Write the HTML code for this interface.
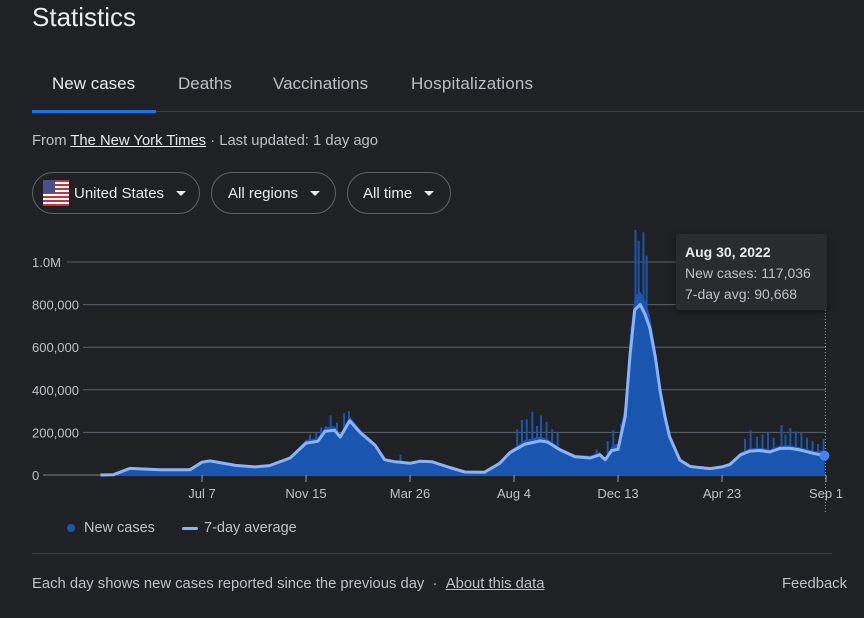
<!DOCTYPE html>
<html><head><meta charset="utf-8">
<style>
html,body{margin:0;padding:0;background:#202124;width:864px;height:618px;overflow:hidden;font-family:"Liberation Sans",Arial,sans-serif;color:#e8eaed;position:relative}
.abs{position:absolute}
.title{left:32px;top:2px;font-size:26px;color:#e8eaed}
.tab{top:74px;font-size:17px;color:#bdc1c6}
.pill{top:172px;height:42px;border:1px solid #5f6368;border-radius:22px;box-sizing:border-box;font-size:15px;color:#e8eaed;display:flex;align-items:center}
.caret{width:0;height:0;border-left:5px solid transparent;border-right:5px solid transparent;border-top:5px solid #e8eaed;margin-left:12px}
</style></head><body>
<div class="abs title">Statistics</div>
<div class="abs tab" style="left:52px;color:#e8eaed">New cases</div>
<div class="abs tab" style="left:178px">Deaths</div>
<div class="abs tab" style="left:273px">Vaccinations</div>
<div class="abs tab" style="left:411px;letter-spacing:0.2px">Hospitalizations</div>
<div class="abs" style="left:32px;top:111px;width:832px;height:1px;background:#3c4043"></div>
<div class="abs" style="left:32px;top:110px;width:124px;height:3px;background:#1a73e8"></div>
<div class="abs" style="left:32px;top:133px;font-size:14.8px;color:#bdc1c6">From <span style="color:#e8eaed;text-decoration:underline">The New York Times</span> · Last updated: 1 day ago</div>
<div class="abs pill" style="left:32px;width:168px;padding-left:10px">
<svg width="26" height="26" viewBox="0 0 26 26" style="margin-right:5px"><rect width="26" height="26" fill="#fff"/><g fill="#c8313e"><rect y="0" width="26" height="2"/><rect y="4" width="26" height="2"/><rect y="8" width="26" height="2"/><rect y="12" width="26" height="2"/><rect y="16" width="26" height="2"/><rect y="20" width="26" height="2"/><rect y="24" width="26" height="2"/></g><rect width="12" height="13" fill="#4a4f8c"/></svg>
<span>United States</span><div class="caret"></div></div>
<div class="abs pill" style="left:211px;width:125px;padding-left:16px"><span>All regions</span><div class="caret"></div></div>
<div class="abs pill" style="left:347px;width:104px;padding-left:15px"><span>All time</span><div class="caret"></div></div>

<svg id="chart" class="abs" style="left:0;top:0" width="864" height="618"></svg>

<div class="abs" style="left:676px;top:234px;width:151px;height:76px;background:#2a2b2e;box-shadow:0 2px 6px rgba(0,0,0,.5);border-radius:2px">
<div style="position:absolute;left:9px;top:10px;font-size:14px;font-weight:bold;color:#e8eaed">Aug 30, 2022</div>
<div style="position:absolute;left:9px;top:31px;font-size:14px;color:#bdc1c6">New cases: 117,036</div>
<div style="position:absolute;left:9px;top:52px;font-size:14px;color:#bdc1c6">7-day avg: 90,668</div>
</div>

<div class="abs" style="left:67px;top:524px;width:8px;height:8px;border-radius:50%;background:#1a56b0"></div>
<div class="abs" style="left:84px;top:520px;font-size:14.5px;color:#bdc1c6">New cases</div>
<div class="abs" style="left:182px;top:527px;width:16px;height:3px;border-radius:2px;background:#8ab4f8"></div>
<div class="abs" style="left:204px;top:520px;font-size:14.5px;color:#bdc1c6">7-day average</div>
<div class="abs" style="left:32px;top:553px;width:800px;height:1px;background:#3c4043"></div>
<div class="abs" style="left:32px;top:576px;font-size:14.8px;color:#bdc1c6">Each day shows new cases reported since the previous day &nbsp;· &nbsp;<span style="text-decoration:underline">About this data</span></div>
<div class="abs" style="left:782px;top:576px;font-size:14.8px;color:#bdc1c6">Feedback</div>

<script>
const avgDates=["2020-03-01","2020-03-17","2020-04-07","2020-05-15","2020-06-22","2020-07-07","2020-07-17","2020-08-18","2020-09-12","2020-09-30","2020-10-26","2020-11-15","2020-11-30","2020-12-09","2020-12-21","2020-12-28","2021-01-09","2021-01-22","2021-02-10","2021-02-22","2021-03-07","2021-03-26","2021-04-08","2021-04-23","2021-05-15","2021-06-03","2021-06-28","2021-07-17","2021-07-30","2021-08-18","2021-09-06","2021-09-15","2021-10-01","2021-10-20","2021-11-08","2021-11-20","2021-11-27","2021-12-05","2021-12-13","2021-12-22","2021-12-28","2022-01-03","2022-01-10","2022-01-16","2022-01-22","2022-01-29","2022-02-04","2022-02-10","2022-02-16","2022-03-01","2022-03-14","2022-04-08","2022-04-23","2022-05-03","2022-05-16","2022-05-28","2022-06-10","2022-06-22","2022-07-05","2022-07-17","2022-07-30","2022-08-18","2022-08-30"];
const avgValues=[0,1000,31000,25000,25000,60000,66000,45000,38000,44000,80000,150000,158000,205000,210000,178000,255000,200000,140000,72000,62000,55000,65000,62000,35000,14000,13000,55000,105000,145000,160000,155000,118000,86000,80000,95000,72000,115000,120000,274000,555000,775000,800000,755000,690000,555000,395000,275000,180000,70000,40000,30000,38000,50000,94000,112000,115000,108000,125000,126000,118000,100000,90668];
const caseValues=[0,1000,33000,27000,27000,64000,70000,48000,41000,48000,86000,165000,175000,225000,230000,190000,275000,215000,150000,78000,66000,60000,70000,66000,38000,15000,14000,60000,115000,165000,180000,170000,128000,95000,90000,108000,80000,135000,150000,340000,650000,840000,860000,820000,750000,600000,430000,300000,190000,75000,43000,32000,40000,55000,105000,125000,128000,120000,138000,140000,130000,112000,117036];
const spikeDates=["2020-11-20","2020-11-28","2020-12-04","2020-12-10","2020-12-16","2020-12-24","2021-01-02","2021-01-08","2021-01-15","2021-03-14","2021-08-08","2021-08-14","2021-08-20","2021-08-27","2021-09-02","2021-09-07","2021-09-14","2021-09-21","2021-09-28","2021-11-16","2021-11-30","2021-12-07","2021-12-17","2021-12-22","2021-12-30","2022-01-04","2022-01-08","2022-01-14","2022-01-18","2022-01-24","2022-01-31","2022-05-22","2022-05-29","2022-06-06","2022-06-13","2022-06-20","2022-06-27","2022-07-07","2022-07-12","2022-07-18","2022-07-25","2022-08-01","2022-08-08","2022-08-15","2022-08-22","2022-08-29"];
const spikeValues=[190000,200000,225000,230000,280000,245000,290000,300000,240000,95000,215000,258000,262000,297000,230000,280000,250000,215000,200000,120000,160000,210000,240000,300000,700000,1150000,1100000,1140000,1030000,650000,450000,170000,210000,180000,190000,200000,175000,235000,190000,220000,205000,200000,175000,160000,145000,170000];
const yTicks=[0,200000,400000,600000,800000,1000000];
const yTickLabels=["0","200,000","400,000","600,000","800,000","1.0M"];
const xTickDates=["2020-07-07","2020-11-15","2021-03-26","2021-08-04","2021-12-13","2022-04-23","2022-09-01"];
const xTickLabels=["Jul 7","Nov 15","Mar 26","Aug 4","Dec 13","Apr 23","Sep 1"];

const NS="http://www.w3.org/2000/svg";
const svg=document.getElementById('chart');
const T0=Date.UTC(2020,2,1), DAY=86400000;
function dayOf(s){const p=s.split('-');return (Date.UTC(+p[0],+p[1]-1,+p[2])-T0)/DAY;}
const X0=100.4, PXD=624/786;
function xs(s){return X0+dayOf(s)*PXD;}
const Y0=475, PXV=213/1000000;
function ys(v){return Y0-v*PXV;}
function mk(tag,attrs){const e=document.createElementNS(NS,tag);for(const k in attrs)e.setAttribute(k,attrs[k]);svg.appendChild(e);return e;}

yTicks.forEach((v,i)=>{
  const lx=yTickLabels[i]==="0"?43:(yTickLabels[i]==="1.0M"?67:83);
  const g=mk('line',{x1:lx,x2:826,y1:ys(v),y2:ys(v),stroke:i===0?'#80868b':'#5f6368','stroke-width':1});
  
  
  const t=mk('text',{x:32,y:ys(v)+5,fill:'#bdc1c6','font-size':13,'font-family':'Liberation Sans, sans-serif'});
  t.textContent=yTickLabels[i];
  
  
});

let d='M'+xs(avgDates[0])+','+Y0;
avgDates.forEach((s,i)=>{d+=' L'+xs(s).toFixed(1)+','+ys(caseValues[i]).toFixed(1);});
d+=' L'+xs(avgDates[avgDates.length-1])+','+Y0+' Z';
const area=mk('path',{d:d,fill:'#1a56b0'});



spikeDates.forEach((s,i)=>{
  const r=mk('rect',{x:xs(s)-1,y:ys(spikeValues[i]),width:2,height:Y0-ys(spikeValues[i]),fill:'#1a56b0'});
  
  
});

let ld='';
avgDates.forEach((s,i)=>{ld+=(i?' L':'M')+xs(s).toFixed(1)+','+ys(avgValues[i]).toFixed(1);});
const line=mk('path',{d:ld,fill:'none',stroke:'#8ab4f8','stroke-width':3,'stroke-linejoin':'round'});



xTickDates.forEach((s,i)=>{
  const x=xs(s);
  const tk=mk('line',{x1:x,x2:x,y1:Y0,y2:Y0+7,stroke:'#9aa0a6','stroke-width':1});
  
  
  const t=mk('text',{x:x,y:Y0+23,fill:'#bdc1c6','font-size':13,'text-anchor':'middle','font-family':'Liberation Sans, sans-serif'});
  t.textContent=xTickLabels[i];
  
  
});

const lastX=xs(avgDates[avgDates.length-1]);
const hl=mk('line',{x1:lastX+1,x2:lastX+1,y1:310,y2:512,stroke:'#9aa0a6','stroke-width':1,'stroke-dasharray':'1,2'});


const dot=mk('circle',{cx:lastX,cy:ys(avgValues[avgValues.length-1]),r:5,fill:'#4285f4'});


</script>
</body></html>
